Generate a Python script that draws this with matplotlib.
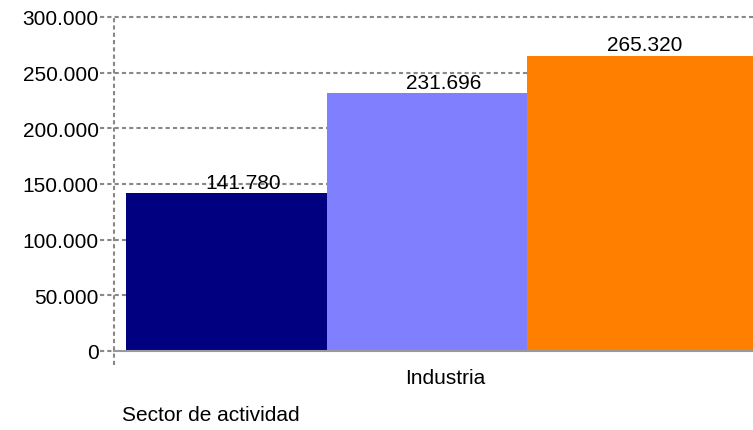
#!/usr/bin/env python3
"""
Bar chart: Industria by sector de actividad
"""

import matplotlib
matplotlib.use('Agg')
import matplotlib.pyplot as plt
import matplotlib.transforms as mtransforms
from matplotlib.ticker import FuncFormatter

# Data
category = 'Industria'
series_values = [141780, 231696, 265320]
bar_colors = ['#000080', '#8080FF', '#FF8000']
y_ticks = [0, 50000, 100000, 150000, 200000, 250000, 300000]
x_title = 'Sector de actividad'

plt.rcParams['font.family'] = ['Liberation Sans', 'DejaVu Sans']


def fmt_es(v):
    return f"{int(v):,}".replace(',', '.')


def create_chart():
    fig = plt.figure(figsize=(7.53, 4.31), dpi=100)
    ax = fig.add_axes([114 / 753, 79 / 431, 639 / 753, 334 / 431])

    # bars laid side by side, left edges at 0, 1, 2
    lefts = list(range(len(series_values)))
    widths = [1.0, 1.0, 1.3]
    ax.bar(lefts, series_values, width=widths, align='edge',
           color=bar_colors, edgecolor='none', zorder=2)

    ax.set_xlim(-0.06, 3.127)
    ax.set_ylim(0, 300000)

    # dashed gridlines, starting a little left of the axis
    blend = mtransforms.blended_transform_factory(ax.transAxes, ax.transData)
    for t in y_ticks[1:]:
        ax.plot([-0.022, 1], [t, t], transform=blend, color='#888888',
                linewidth=1.5, linestyle=(0, (2, 1.5)), clip_on=False, zorder=1)
    ax.plot([-0.022, 0], [0, 0], transform=blend, color='#888888',
            linewidth=1.5, linestyle=(0, (2, 1.5)), clip_on=False, zorder=1)

    # axes lines
    for s in ax.spines.values():
        s.set_visible(False)
    ax.plot([0, 1], [0, 0], transform=ax.transAxes, color='#999999',
            linewidth=1.5, clip_on=False, zorder=3)
    ax.plot([0, 0], [-0.042, 1], transform=ax.transAxes, color='#888888',
            linewidth=1.5, linestyle=(0, (2, 1.5)), clip_on=False, zorder=3)

    # ticks
    ax.set_yticks(y_ticks)
    ax.yaxis.set_major_formatter(FuncFormatter(lambda v, p: fmt_es(v)))
    ax.tick_params(axis='y', length=0, pad=11, labelsize=15, labelcolor='#000000')
    ax.set_xticks([1.59])
    ax.set_xticklabels([category])
    ax.tick_params(axis='x', length=0, pad=12, labelsize=15, labelcolor='#000000')

    # value labels
    for left, w, v in zip(lefts, [1.0, 1.0, 1.0], series_values):
        ax.annotate(fmt_es(v), (left + 0.585, v), xytext=(0, 1),
                    textcoords='offset points', ha='center', va='bottom',
                    fontsize=15, color='#000000', zorder=4)

    # axis title
    fig.text(122 / 753, 1 - 416 / 431, x_title, ha='left', va='center',
             fontsize=15, color='#000000')

    fig.savefig('out.png', dpi=100, facecolor='white')
    plt.close(fig)


if __name__ == '__main__':
    create_chart()
